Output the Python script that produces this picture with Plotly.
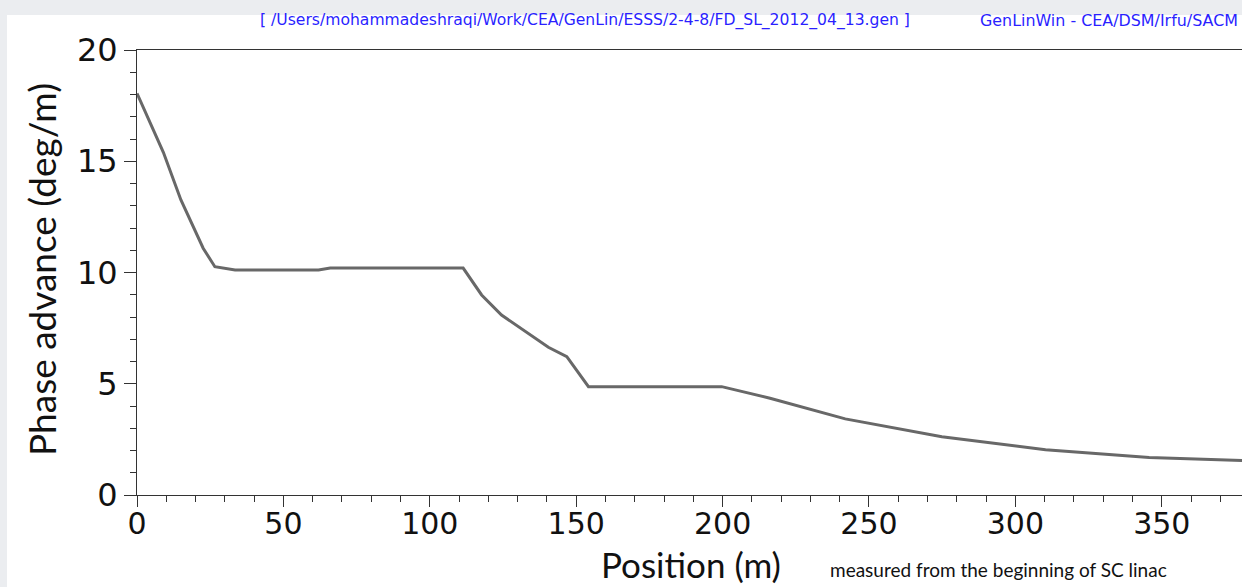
import plotly.graph_objects as go

position_m = [0, 9, 15, 22.6, 26.6, 33.5, 62, 66, 111.4, 117.7, 124.5, 133.6, 140.5, 146.8,
              154.2, 199.7, 216.2, 241.9, 274.9, 310.3, 345.7, 377.4]
phase_adv = [18.05, 15.4, 13.26, 11.09, 10.26, 10.11, 10.11, 10.2, 10.2, 8.99, 8.09, 7.27, 6.64, 6.22,
             4.87, 4.87, 4.35, 3.42, 2.62, 2.03, 1.68, 1.55]

x_ticks = [0, 50, 100, 150, 200, 250, 300, 350]
y_ticks = [0, 5, 10, 15, 20]

W, H = 1242, 587
L, R, T, B = 137, 0, 50, 92
pw = W - L - R
ph = H - T - B

def px(x):
    return (x - L) / pw

def py(y):
    return (H - B - y) / ph

fig = go.Figure()
fig.add_trace(go.Scatter(x=position_m, y=phase_adv, mode="lines",
                         line=dict(color="#686868", width=3), showlegend=False))

xfont = dict(family="DejaVu Sans", size=30, color="#111111")
yfont = dict(family="DejaVu Sans", size=32, color="#111111")
fig.update_xaxes(range=[0, 377.4], tickvals=x_ticks, ticks="outside", ticklen=11, tickwidth=1,
                 tickcolor="#333", showline=True, linecolor="#333", linewidth=1, mirror=True,
                 showgrid=False, zeroline=False, tickfont=xfont, ticklabelstandoff=-9,
                 minor=dict(dtick=10, ticks="outside", ticklen=6, tickcolor="#333", tickwidth=1, showgrid=False))
fig.update_yaxes(range=[0, 20], tickvals=y_ticks, ticks="outside", ticklen=12, tickwidth=1,
                 tickcolor="#333", showline=True, linecolor="#333", linewidth=1, mirror=False,
                 showgrid=False, zeroline=False, tickfont=yfont,
                 minor=dict(dtick=1, ticks="outside", ticklen=6, tickcolor="#333", tickwidth=1, showgrid=False))

fig.add_shape(type="rect", xref="paper", yref="paper", x0=px(7), x1=px(W + 5), y0=py(H + 5), y1=py(15),
              fillcolor="white", line=dict(width=0), layer="below")

blue = "#2b1fff"
fig.add_annotation(x=px(258), y=py(20), xref="paper", yref="paper", xanchor="left", yanchor="middle",
                   text="[ /Users/mohammadeshraqi/Work/CEA/GenLin/ESSS/2-4-8/FD_SL_2012_04_13.gen ]",
                   showarrow=False, font=dict(family="DejaVu Sans", size=15.6, color=blue))
fig.add_annotation(x=px(1240), y=py(20), xref="paper", yref="paper", xanchor="right", yanchor="middle",
                   text="GenLinWin - CEA/DSM/Irfu/SACM",
                   showarrow=False, font=dict(family="DejaVu Sans", size=15.9, color=blue))
fig.add_annotation(x=px(41), y=py(270), xref="paper", yref="paper", xanchor="center", yanchor="middle",
                   text="Phase advance (deg/m)", textangle=-90, showarrow=False,
                   font=dict(family="Lato", size=37, color="#111111"))
fig.add_annotation(x=px(691), y=py(564), xref="paper", yref="paper", xanchor="center", yanchor="middle",
                   text="Position (m)", showarrow=False,
                   font=dict(family="Lato", size=35, color="#111111"))
fig.add_annotation(x=px(828), y=py(569), xref="paper", yref="paper", xanchor="left", yanchor="middle",
                   text="measured from the beginning of SC linac", showarrow=False,
                   font=dict(family="Lato", size=19, color="#111111"))

fig.update_layout(width=W, height=H, margin=dict(l=L, r=R, t=T, b=B),
                  paper_bgcolor="#ebedf0", plot_bgcolor="white")
fig.write_html("out.html")
